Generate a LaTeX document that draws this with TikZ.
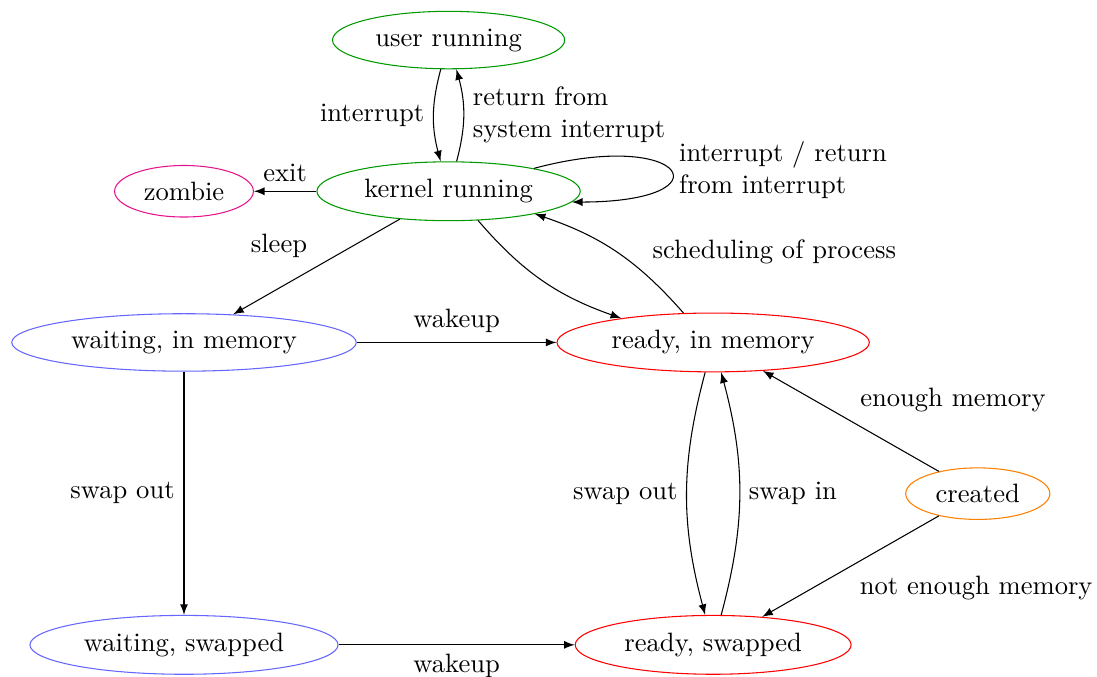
\documentclass[tikz,border=0pt]{standalone}
\usetikzlibrary{shapes.geometric}
\definecolor{zombiepink}{RGB}{230,20,140}
\begin{document}
\begin{tikzpicture}[>=latex, proc/.style={ellipse,draw}]
\useasboundingbox (-2.434,0.53) rectangle (12.077,-8.425);
\node[proc,draw=green!60!black] (user) at (3.5,0) {user running};
\node[proc,draw=green!60!black] (kernel) at (3.5,-2) {kernel running};
\node[proc,draw=zombiepink] (zombie) at (0,-2) {zombie};
\node[proc,draw=blue!60] (waitmem) at (0,-4) {waiting, in memory};
\node[proc,draw=red] (readymem) at (7,-4) {ready, in memory};
\node[proc,draw=orange] (created) at (10.5,-6) {created};
\node[proc,draw=blue!60] (waitswap) at (0,-8) {waiting, swapped};
\node[proc,draw=red] (readyswap) at (7,-8) {ready, swapped};

\draw[->] (user) to[bend right=15] node[left]{interrupt} (kernel);
\draw[->] (kernel) to[bend right=15] node[right,align=left]{return from\\system interrupt} (user);
\draw[->] (kernel.15) to[out=15,in=0,looseness=8] node[right,align=left]{interrupt / return\\from interrupt} (kernel.-5);
\draw[->] (kernel) -- node[above]{exit} (zombie);
\draw[->] (kernel) -- node[above left]{sleep} (waitmem);
\draw[->] (kernel) to[bend right=15] (readymem);
\draw[->] (readymem) to[bend right=15] node[right=10pt]{scheduling of process} (kernel);
\draw[->] (waitmem) -- node[above]{wakeup} (readymem);
\draw[->] (waitmem) -- node[left]{swap out} (waitswap);
\draw[->] (readymem) to[bend right=15] node[left]{swap out} (readyswap);
\draw[->] (readyswap) to[bend right=15] node[right]{swap in} (readymem);
\draw[->] (created) -- node[above right]{enough memory} (readymem);
\draw[->] (created) -- node[below right]{not enough memory} (readyswap);
\draw[->] (waitswap) -- node[below]{wakeup} (readyswap);

\end{tikzpicture}
\end{document}
